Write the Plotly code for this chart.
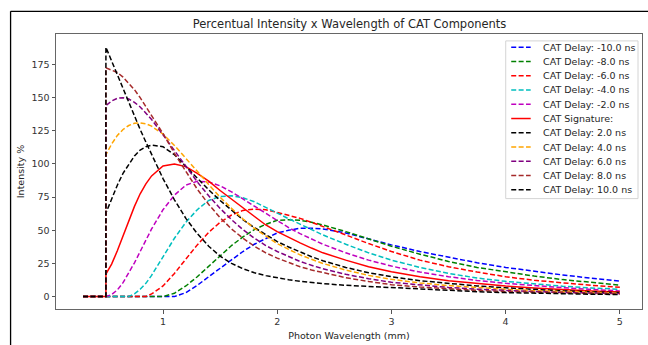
import plotly.graph_objects as go

# ---------------- data ----------------
X = [0.3, 0.5, 0.5, 0.55, 0.6, 0.65, 0.7, 0.75, 0.8, 0.85, 0.9, 1.0, 1.1, 1.2, 1.3, 1.4,
     1.5, 1.6, 1.7, 1.8, 1.9, 2.0, 2.1, 2.2, 2.3, 2.4, 2.6, 2.8, 3.0, 3.25, 3.5, 3.75,
     4.0, 4.25, 4.5, 4.75, 5.0]

delay_m10 = [0, 0, 0, 0, 0, 0, 0, 0, 0, 0, 0, 0, 0, 3, 8.5, 15, 21.5, 28, 34, 39.5, 44,
             48, 50, 51.5, 51.6, 51, 48, 43.5, 39, 34, 29.5, 25.5, 22, 19, 16.3, 13.9,
             11.7]
delay_m8 = [0, 0, 0, 0, 0, 0, 0, 0, 0, 0, 0, 0, 2.5, 8, 15, 23, 31, 38.5, 45, 50.5, 54.5,
            57.5, 58, 57.5, 56, 54, 49, 43.5, 38, 32, 26.5, 22, 18.5, 15.5, 12.8, 10.6,
            8.7]
delay_m6 = [0, 0, 0, 0, 0, 0, 0, 0, 0, 0, 2, 8, 17.5, 28.5, 39, 48.5, 56, 61.5, 65, 66,
            65.5, 63.5, 61.5, 59, 56, 53, 46.5, 40, 34, 27.5, 22.5, 18.5, 15, 12.3, 10.2,
            8.5, 7]
delay_m4 = [0, 0, 0, 0, 0, 0, 0, 2, 5.5, 10, 16, 30, 44, 56, 65.5, 72.5, 75.5, 76, 74.5,
            71.5, 67.5, 63, 58.7, 54.5, 50.5, 46.5, 39.5, 33, 27.5, 22, 17.5, 14, 11.5,
            9.5, 7.8, 6.5, 5.5]
delay_m2 = [0, 0, 0, 1.5, 5, 10.5, 17.5, 25.5, 34, 42.5, 51, 65.5, 76.5, 84, 87, 86.5,
            83.5, 79, 73.5, 68, 62.5, 57, 52, 47.5, 43.3, 39.5, 33, 27.5, 23, 18.5, 15,
            12.2, 10, 8.2, 6.7, 5.4, 4.3]
signature = [0, 0, 17, 24.5, 34.5, 46, 57.5, 68, 77.5, 85, 91, 98.5, 100, 98, 93, 87, 80,
             73.5, 66.5, 60, 54, 49, 44.6, 40.5, 36.6, 33, 27.5, 22.5, 18.7, 15, 12, 9.8,
             8, 6.5, 5.3, 4.3, 3.5]
delay_p2 = [0, 0, 63, 74, 84, 93, 100, 106, 110.5, 113, 114.2, 113, 107, 98, 89, 80.5,
            72.5, 65, 58, 52, 46.5, 41.5, 37.4, 33.5, 30.1, 27, 22, 18, 15, 12, 9.8, 8,
            6.6, 5.4, 4.4, 3.6, 3.0]
delay_p4 = [0, 0, 107, 115, 121.5, 126, 129, 130.7, 131, 130.3, 128.5, 122.5, 114, 104.5,
            94.5, 84.5, 75, 66.5, 58.5, 51.5, 45.5, 40, 35.6, 31.5, 28.1, 25, 20, 16, 13,
            10.3, 8.3, 6.7, 5.5, 4.5, 3.7, 3.1, 2.6]
delay_p6 = [0, 0, 144, 147.5, 149.5, 150, 149, 146.5, 143, 138.5, 133.5, 122, 110, 98,
            86.5, 76, 66.5, 58, 50.5, 44, 38.5, 34, 30, 26.5, 23.6, 21, 16.8, 13.5, 10.8,
            8.6, 6.9, 5.6, 4.6, 3.8, 3.2, 2.7, 2.3]
delay_p8 = [0, 0, 172.5, 171, 169, 165.5, 161, 156, 150, 143.5, 137, 123, 108, 94, 81,
            69.5, 59.5, 51, 44, 38, 33, 29, 25.6, 22.5, 20.1, 18, 14.3, 11.4, 9, 7.2, 5.8,
            4.7, 3.9, 3.2, 2.7, 2.3, 2.0]
delay_p10 = [0, 0, 188, 177.5, 167, 156.5, 146, 136, 126, 116.5, 107, 89, 73, 59, 47.5,
             38, 30.5, 25, 21, 18, 15.8, 14, 12.7, 11.5, 10.6, 9.8, 8.5, 7.6, 6.8, 5.5,
             4.5, 3.7, 3.0, 2.5, 2.1, 1.8, 1.6]

names = ["CAT Delay: -10.0 ns", "CAT Delay: -8.0 ns", "CAT Delay: -6.0 ns",
         "CAT Delay: -4.0 ns", "CAT Delay: -2.0 ns", "CAT Signature:",
         "CAT Delay: 2.0 ns", "CAT Delay: 4.0 ns", "CAT Delay: 6.0 ns",
         "CAT Delay: 8.0 ns", "CAT Delay: 10.0 ns"]
series = [delay_m10, delay_m8, delay_m6, delay_m4, delay_m2, signature,
          delay_p2, delay_p4, delay_p6, delay_p8, delay_p10]
colors = ["#0000ff", "#008000", "#ff0000", "#00bfbf", "#bf00bf", "#ff0000",
          "#000000", "#ffa500", "#800080", "#a52a2a", "#000000"]
dashes = ["dash"] * 5 + ["solid"] + ["dash"] * 5

x_ticks = [1, 2, 3, 4, 5]
y_ticks = [0, 25, 50, 75, 100, 125, 150, 175]

# ---------------- layout geometry ----------------
W, H = 648, 345
L, R, T, B = 56, 643, 34, 313          # plot area in pixels
pw, ph = R - L, B - T
FONT = "DejaVu Sans"
DASH = "5px,2.4px"


def px(xp):
    return (xp - L) / pw


def py(yp):
    return (B - yp) / ph


fig = go.Figure()
for name, ys, c, d in zip(names, series, colors, dashes):
    fig.add_trace(go.Scatter(
        x=X, y=ys, mode="lines", name=name,
        line=dict(color=c, width=1.5, dash=DASH if d == "dash" else "solid",
                  shape="linear"),
        showlegend=False))

shapes = []
annotations = []

# figure border (top and left edges visible in the reference)
shapes.append(dict(type="line", xref="paper", yref="paper",
                   x0=px(10.5), x1=px(660), y0=py(11), y1=py(11),
                   line=dict(color="#000000", width=1.3), layer="above"))
shapes.append(dict(type="line", xref="paper", yref="paper",
                   x0=px(10.5), x1=px(10.5), y0=py(11), y1=py(360),
                   line=dict(color="#000000", width=1.3), layer="above"))

# manual legend (matplotlib style)
lx0, lx1, ly0, ly1 = 506.5, 639, 41, 201
shapes.append(dict(type="rect", xref="paper", yref="paper",
                   x0=px(lx0), x1=px(lx1), y0=py(ly1), y1=py(ly0),
                   line=dict(color="#d4d4d4", width=1), fillcolor="rgba(255,255,255,0.85)",
                   layer="above"))
row0, step = 47.4, 14.47
for i, (name, c, d) in enumerate(zip(names, colors, dashes)):
    yy = row0 + step * i
    shapes.append(dict(type="line", xref="paper", yref="paper",
                       x0=px(512), x1=px(531.5), y0=py(yy), y1=py(yy),
                       line=dict(color=c, width=1.5, dash=DASH if d == "dash" else "solid"),
                       layer="above"))
    annotations.append(dict(xref="paper", yref="paper", x=px(541.5), y=py(yy),
                            text=name, showarrow=False, xanchor="left", yanchor="middle",
                            font=dict(family=FONT, size=9.5, color="#262626")))

fig.update_layout(
    width=W, height=H,
    margin=dict(l=L, r=W - R, t=T, b=H - B, pad=0),
    paper_bgcolor="white", plot_bgcolor="white",
    font=dict(family=FONT, size=9.5, color="#262626"),
    title=dict(text="Percentual Intensity x Wavelength of CAT Components",
               x=(L + R) / 2 / W, xanchor="center", y=1 - 24 / H, yanchor="middle",
               font=dict(family=FONT, size=11.5, color="#262626")),
    xaxis=dict(range=[0.063, 5.194], tickvals=x_ticks, ticks="outside", ticklen=3.5,
               tickcolor="#555555", showline=True, linecolor="#666666", linewidth=1,
               mirror=True, showgrid=False, zeroline=False,
               tickfont=dict(family=FONT, size=9.5, color="#333333"),
               title=dict(text="Photon Wavelength (mm)", standoff=6,
                          font=dict(family=FONT, size=9.5, color="#262626"))),
    yaxis=dict(range=[-9.35, 198], tickvals=y_ticks, ticks="outside", ticklen=3.5,
               tickcolor="#555555", showline=True, linecolor="#666666", linewidth=1,
               mirror=True, showgrid=False, zeroline=False,
               tickfont=dict(family=FONT, size=9.5, color="#333333"),
               title=dict(text="Intensity %", standoff=5,
                          font=dict(family=FONT, size=9.5, color="#262626"))),
    shapes=shapes, annotations=annotations,
)

fig.write_html("out.html")
